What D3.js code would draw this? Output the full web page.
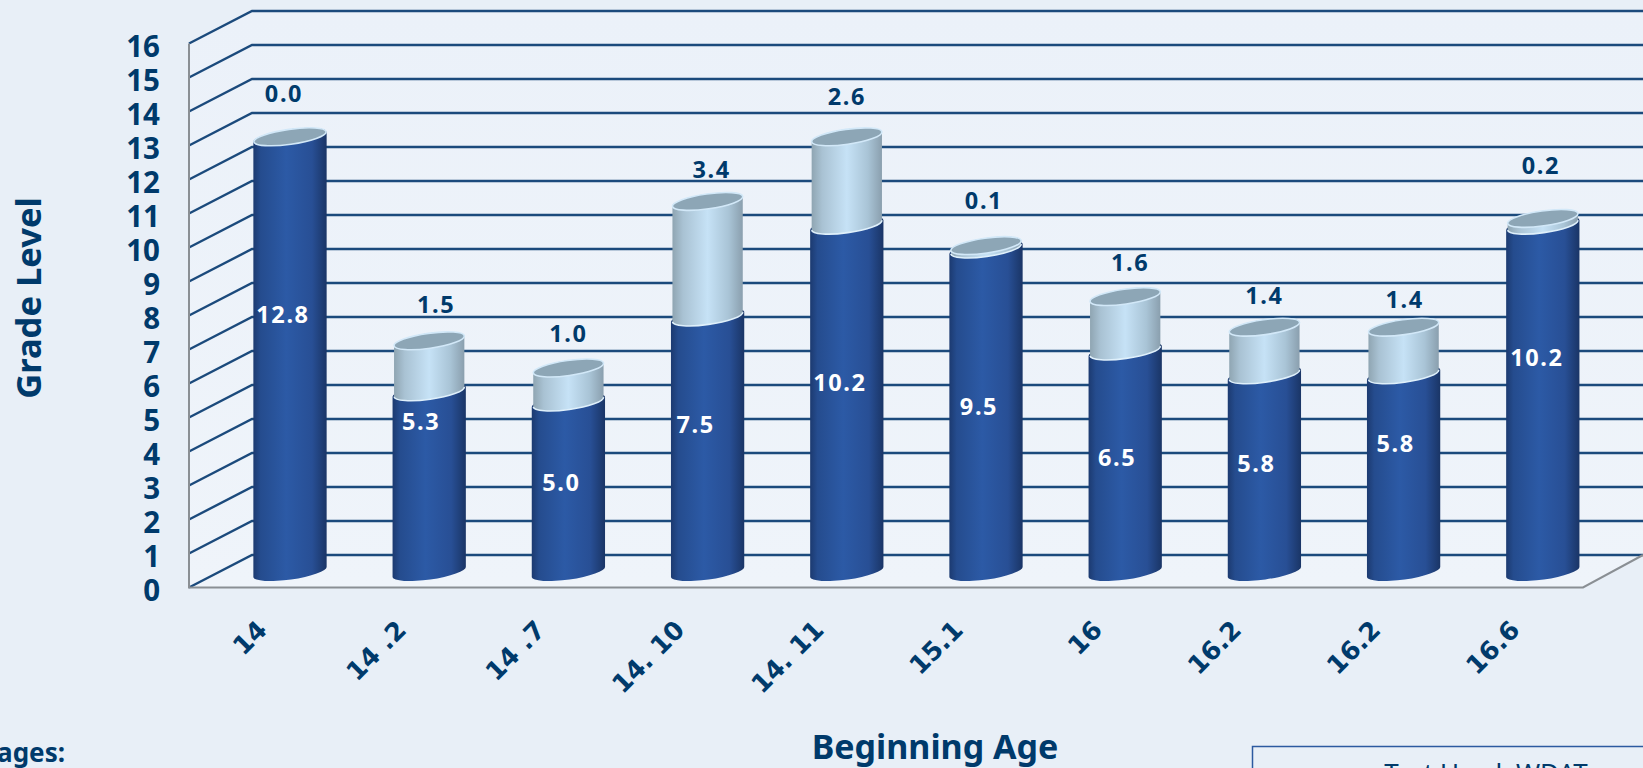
<!DOCTYPE html>
<html><head><meta charset="utf-8">
<script src="https://cdn.jsdelivr.net/npm/d3@7"></script>
<style>html,body{margin:0;padding:0;background:#e8eff7;overflow:hidden}svg{display:block}text{font-family:"Noto Sans",sans-serif}</style>
</head><body><svg id="c" width="1643" height="768"></svg>
<script>
const categories=["14","14 .2","14 .7","14. 10","14. 11","15.1","16","16.2","16.2","16.6"];
const baseValues=[12.8,5.3,5.0,7.5,10.2,9.5,6.5,5.8,5.8,10.2];
const gainValues=[0.0,1.5,1.0,3.4,2.6,0.1,1.6,1.4,1.4,0.2];
const yTicks=d3.range(0,17);
const gainLabelShift=[[-6,-43],[7,-36],[0,-34],[4,-32],[0,-40],[-2,-45],[5,-34],[0,-32],[1,-28],[-2,-53]];
const baseLabelShift=[[-7,-40],[-8,-60],[-7,-4],[-12,-20],[-7,-16],[-7,-4],[-8,-4],[-8,-10],[-8,-30],[-6,-41]];

const W=1643,H=768,ink="#003a6b",grid="#1b4a7c";
const svg=d3.select("#c");
const defs=svg.append("defs");
function grad(id,stops){const g=defs.append("linearGradient").attr("id",id);
 stops.forEach(s=>g.append("stop").attr("offset",s[0]).attr("stop-color",s[1]));}
grad("dark",[[0,"#1c3a70"],[.1,"#254c8e"],[.45,"#2c5aa6"],[.8,"#284f95"],[1,"#1a3566"]]);
grad("light",[[0,"#8fa5b2"],[.15,"#a9c2d3"],[.5,"#c6e2f6"],[.8,"#a9c4d6"],[1,"#8a9fae"]]);
const wg=defs.append("linearGradient").attr("id","wall").attr("x1",0).attr("x2",0).attr("y1",0).attr("y2",1);
wg.append("stop").attr("offset",0).attr("stop-color","#ebf1f9");
wg.append("stop").attr("offset",1).attr("stop-color","#eff4fa");

const y=d3.scaleLinear().domain([0,16]).range([587.5,43.5]);
const x=d3.scalePoint().domain(d3.range(categories.length)).range([290,1542.8]);
const depthX=63,depthY=-32.5,barBase=572-587.5;
const rx=37,ry=7.5,rot=-8,rad=rot*Math.PI/180;
const ex=rx*Math.cos(rad),ey=rx*Math.sin(rad);
const barY=v=>y(v)+barBase;

// walls and floor
const y0=y(0),y16=y(16),xL=189,xR=1583;
svg.append("path").attr("d",`M${xL},${y0}L${xL},${y16}L${xL+depthX},${y16+depthY}L${W},${y16+depthY}L${W},${y0+depthY}L${xR},${y0}Z`).attr("fill","url(#wall)");
const g=svg.append("g").attr("fill","none").attr("stroke",grid).attr("stroke-width",2.4);
yTicks.forEach(t=>{g.append("path").attr("d",`M${xL},${y(t)}L${xL+depthX},${y(t)+depthY}L${W},${y(t)+depthY}`);});
svg.append("path").attr("d",`M${xL},${y16}L${xL},${y0}L${xR},${y0}L${W},${y0+depthY}`).attr("fill","none").attr("stroke","#8a8f94").attr("stroke-width",2);

// y axis
const ax=svg.append("g").attr("transform",`translate(167,2.2)`).call(d3.axisLeft(y).tickValues(yTicks).tickSize(0).tickPadding(7).tickFormat(d3.format("d")));
ax.select(".domain").remove();
ax.selectAll("text").attr("fill",ink).style("font-family",'"Noto Sans"').style("font-size","29.5px").style("font-weight",700).attr("dy","0.36em");

// cylinders
function cyl(cx,yb,yt,w){
 const k=w/rx;
 return `M${cx-ex*k},${yb-ey*k}A${w},${ry} ${rot} 0 0 ${cx+ex*k},${yb+ey*k}L${cx+ex*k},${yt+ey*k}A${w},${ry} ${rot} 0 0 ${cx-ex*k},${yt-ey*k}Z`;
}
const bars=svg.append("g");
categories.forEach((c,i)=>{
 const cx=x(i),b=baseValues[i],t=b+gainValues[i];
 bars.append("path").attr("d",cyl(cx,barY(0),barY(b),rx)).attr("fill","url(#dark)");
 const tw=rx-1.5;
 if(gainValues[i]>0){
  const k=tw/rx,xa=cx-ex*k,xb=cx+ex*k,yb=barY(b),ea=ey*k;
  bars.append("path").attr("d",cyl(cx,yb,barY(t),tw)).attr("fill","url(#light)");
  bars.append("path").attr("d",`M${xa},${yb-ea}A${tw},${ry} ${rot} 0 0 ${xb},${yb+ea}`).attr("fill","none").attr("stroke","#dff0fb").attr("stroke-width",1.6);
 }
 bars.append("ellipse").attr("rx",gainValues[i]>0?tw:rx-.5).attr("ry",ry).attr("transform",`translate(${cx},${barY(t)}) rotate(${rot})`)
  .attr("fill","#8da6b6").attr("stroke","#d2e8f8").attr("stroke-width",1.6);
});

const labels=svg.append("g").attr("text-anchor","middle").style("font-weight",700).style("font-size","23.5px").style("letter-spacing","1.6px");
categories.forEach((c,i)=>{
 const b=baseValues[i],t=b+gainValues[i];
 labels.append("text").text(gainValues[i].toFixed(1)).attr("fill",ink)
  .attr("x",x(i)+gainLabelShift[i][0]).attr("y",barY(t)+gainLabelShift[i][1]).attr("dy","0.36em");
 labels.append("text").text(b.toFixed(1)).attr("fill","#fff")
  .attr("x",x(i)+baseLabelShift[i][0]).attr("y",barY(b/2)+baseLabelShift[i][1]).attr("dy","0.36em");
 svg.append("text").text(c).attr("text-anchor","end").attr("fill",ink)
  .attr("transform",`translate(${x(i)-28},625) rotate(-45)`).attr("dy","0.36em")
  .style("font-family",'"DejaVu Sans"').style("font-size","25.5px").style("font-weight",700);
});

const title=(s,size)=>svg.append("text").text(s).attr("fill",ink).style("font-weight",700).style("font-size",size+"px");
title("Grade Level",34.5).attr("text-anchor","middle").attr("transform","translate(29,298) rotate(-90)").attr("dy","0.36em");
title("Beginning Age",34).attr("text-anchor","middle").attr("x",935).attr("y",758.5);
title("ages:",26).attr("text-anchor","end").attr("x",65).attr("y",762);
svg.append("rect").attr("x",1252.5).attr("y",746.5).attr("width",500).attr("height",60).attr("fill","none").attr("stroke","#2c5aa0").attr("stroke-width",1.5);
svg.append("text").text("Test Used: WDAT").attr("fill",ink).attr("text-anchor","middle").attr("x",1486).attr("y",781.5).style("font-size","26px");
</script></body></html>
